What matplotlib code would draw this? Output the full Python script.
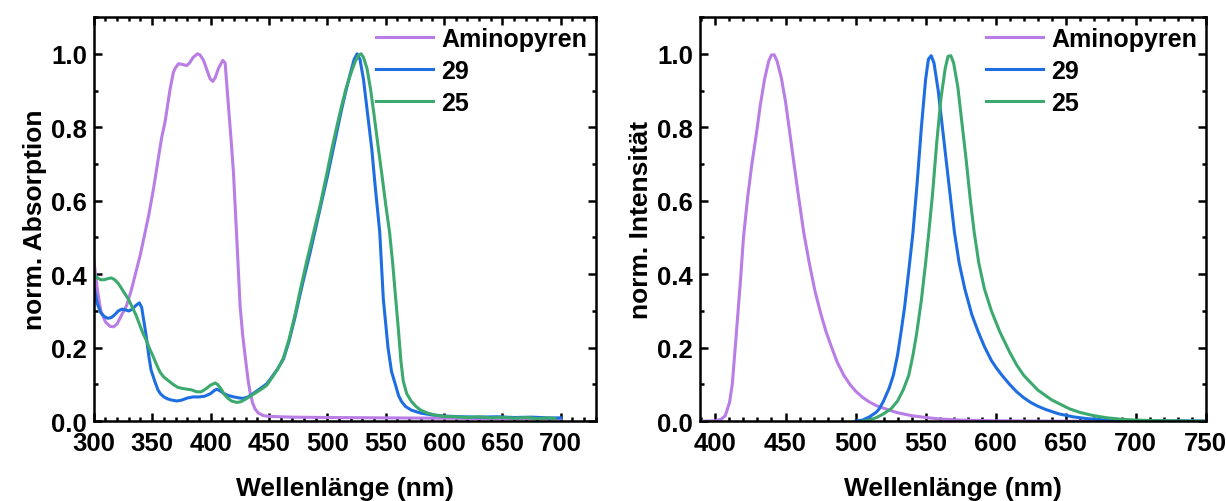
import matplotlib
matplotlib.use("Agg")
import matplotlib.pyplot as plt
from matplotlib.ticker import MultipleLocator

plt.rcParams['font.family'] = ['Liberation Sans', 'DejaVu Sans']
plt.rcParams['font.weight'] = 'bold'
plt.rcParams['axes.labelweight'] = 'bold'

# colours
c_amino = '#b97de6'
c_29 = '#1e6ee1'
c_25 = '#3caa6e'

# --- absorption spectra ---
abs_amino_wl = [300, 303, 306, 310, 314, 317, 320, 324, 328, 332, 336, 340, 343, 347, 351, 355.4, 358,
                361, 365.4, 368.2, 370, 372.5, 376, 379.6, 382, 385, 388.8, 391, 394, 397, 399.6, 401.9,
                404, 407, 410.5, 412.5, 415.3, 417.5, 419.6, 422.5, 425.3, 427.5, 429.6, 432, 433.9, 436,
                438.2, 441, 445.3, 450, 470, 500, 550, 600, 650, 700]
abs_amino = [0.44, 0.36, 0.30, 0.27, 0.258, 0.257, 0.265, 0.29, 0.314, 0.355, 0.405, 0.455, 0.50, 0.56,
             0.63, 0.718, 0.77, 0.814, 0.905, 0.95, 0.962, 0.973, 0.971, 0.968, 0.975, 0.99, 1.0, 0.997,
             0.982, 0.955, 0.932, 0.925, 0.935, 0.962, 0.982, 0.975, 0.859, 0.77, 0.678, 0.496, 0.314,
             0.235, 0.178, 0.115, 0.078, 0.05, 0.033, 0.022, 0.015, 0.013, 0.011, 0.010, 0.009, 0.008,
             0.007, 0.006]

abs_29_wl = [300, 303, 306, 309, 312, 315, 318, 321, 324, 327, 330, 333, 336, 339, 341, 343, 345, 347, 349,
             352.5, 355, 357, 360, 363, 366, 371, 375, 380, 385, 390, 395, 400, 403, 405.3, 408, 411, 415,
             420, 425, 428, 432, 436, 440, 444, 448.2, 452, 457, 462.4, 467, 472, 476.7, 480, 485, 490,
             495, 500, 504, 508, 512, 516, 520, 523, 525.5, 528, 531, 534, 538.1, 541, 544.9, 548, 552,
             555, 558.3, 561, 563.5, 567, 572, 580, 590, 600, 615, 630, 645, 660, 675, 690, 700]
abs_29 = [0.37, 0.32, 0.295, 0.285, 0.28, 0.282, 0.29, 0.30, 0.305, 0.303, 0.30, 0.305, 0.315, 0.322,
          0.31, 0.27, 0.23, 0.18, 0.14, 0.106, 0.085, 0.075, 0.066, 0.061, 0.058, 0.055, 0.057, 0.063,
          0.066, 0.066, 0.068, 0.075, 0.083, 0.087, 0.083, 0.076, 0.07, 0.066, 0.063, 0.062, 0.066,
          0.074, 0.083, 0.092, 0.102, 0.118, 0.14, 0.169, 0.215, 0.278, 0.345, 0.39, 0.455, 0.525,
          0.595, 0.665, 0.725, 0.785, 0.845, 0.9, 0.95, 0.985, 1.0, 0.985, 0.93, 0.85, 0.741, 0.64,
          0.515, 0.332, 0.2, 0.135, 0.1, 0.07, 0.054, 0.04, 0.03, 0.022, 0.017, 0.014, 0.012, 0.011,
          0.012, 0.010, 0.011, 0.009, 0.009]

abs_25_wl = [300, 303, 306, 309, 312, 315, 318, 321, 324, 327, 330, 333, 336, 339, 342, 345, 348, 351, 354,
             356.8, 360, 364, 368, 372, 376, 380, 384, 388, 392, 396, 400, 403.9, 406, 409, 412, 415, 418,
             422.5, 426, 430, 435, 440, 444, 448.2, 453, 458, 462.4, 467, 472, 476.7, 482, 488, 494, 500,
             503.9, 508, 512, 516, 520, 524, 527, 529, 531, 534, 537, 540, 543.8, 547, 550, 553.3, 556,
             558, 561, 563, 565, 568, 572, 576, 580, 586, 592, 600, 610, 620, 630, 640, 650, 660, 670, 680,
             690, 695]
abs_25 = [0.40, 0.39, 0.385, 0.385, 0.388, 0.39, 0.385, 0.375, 0.36, 0.345, 0.33, 0.31, 0.29, 0.265,
          0.24, 0.22, 0.196, 0.175, 0.152, 0.133, 0.12, 0.11, 0.10, 0.092, 0.089, 0.087, 0.085, 0.08,
          0.08, 0.088, 0.098, 0.104, 0.10, 0.088, 0.072, 0.062, 0.055, 0.051, 0.053, 0.06, 0.07, 0.08,
          0.088, 0.098, 0.12, 0.145, 0.172, 0.22, 0.285, 0.355, 0.43, 0.51, 0.59, 0.68, 0.741, 0.80,
          0.855, 0.905, 0.945, 0.98, 0.997, 1.0, 0.99, 0.96, 0.905, 0.835, 0.741, 0.665, 0.59, 0.515,
          0.43, 0.355, 0.245, 0.165, 0.11, 0.075, 0.054, 0.04, 0.03, 0.022, 0.017, 0.013, 0.012, 0.010,
          0.012, 0.009, 0.011, 0.008, 0.010, 0.007, 0.009, 0.007]

# --- emission spectra ---
em_amino_wl = [390, 400, 404, 407, 410, 412, 415, 418, 420, 423, 426, 429.5, 432, 435, 438, 440, 442, 444,
               447, 450, 452, 455, 459, 463, 467, 471, 475, 479, 483, 487, 491.6, 496, 500, 505, 510, 515,
               522.6, 530, 540, 550, 560, 575, 600, 650, 750]
em_amino = [0.0, 0.001, 0.005, 0.015, 0.05, 0.1, 0.243, 0.39, 0.5, 0.61, 0.70, 0.79, 0.86, 0.93, 0.98,
            0.997, 0.997, 0.98, 0.935, 0.87, 0.815, 0.73, 0.62, 0.514, 0.43, 0.355, 0.295, 0.243, 0.2,
            0.16, 0.125, 0.1, 0.082, 0.065, 0.052, 0.042, 0.032, 0.023, 0.015, 0.01, 0.006, 0.003, 0.001,
            0.0, 0.0]

em_29_wl = [500, 505, 510, 515, 517, 520, 524, 527, 530, 532.5, 535, 538, 541, 544, 547, 550, 552, 554,
            556, 559, 562, 565, 568, 570.6, 574, 578, 583, 587.6, 592, 597, 600.5, 604.5, 610, 615, 620,
            625, 630, 635.6, 645, 655, 665, 680, 700, 750]
em_29 = [0.0, 0.003, 0.012, 0.025, 0.034, 0.055, 0.09, 0.125, 0.18, 0.243, 0.31, 0.41, 0.514, 0.65, 0.8,
         0.93, 0.985, 0.995, 0.975, 0.9, 0.8, 0.7, 0.6, 0.514, 0.43, 0.36, 0.29, 0.243, 0.203, 0.165,
         0.145, 0.125, 0.1, 0.08, 0.064, 0.051, 0.041, 0.032, 0.02, 0.012, 0.007, 0.003, 0.001, 0.0]

em_25_wl = [505, 510, 515, 520, 525.4, 530, 534, 538, 541, 543.8, 547, 550, 552.3, 555, 558, 561, 564, 566,
            568, 570, 573, 576, 579, 582, 584.7, 588, 592, 597, 603, 610, 615, 620, 630, 640, 652.5, 660,
            670, 680, 690, 700, 720, 750]
em_25 = [0.0, 0.003, 0.01, 0.02, 0.034, 0.055, 0.085, 0.125, 0.18, 0.243, 0.33, 0.43, 0.514, 0.62, 0.76,
         0.88, 0.96, 0.993, 0.995, 0.975, 0.91, 0.81, 0.71, 0.6, 0.514, 0.43, 0.36, 0.3, 0.243, 0.188,
         0.153, 0.125, 0.085, 0.058, 0.034, 0.024, 0.015, 0.009, 0.005, 0.003, 0.001, 0.0]

labels = ['Aminopyren', '29', '25']

fig = plt.figure(figsize=(12.26, 5.02), dpi=100)
ax1 = fig.add_axes([0.0765, 0.159, 0.4095, 0.805])
ax2 = fig.add_axes([0.571, 0.159, 0.4125, 0.805])

ax1.plot(abs_amino_wl, abs_amino, color=c_amino, lw=2.2, label=labels[0])
ax1.plot(abs_29_wl, abs_29, color=c_29, lw=2.2, label=labels[1])
ax1.plot(abs_25_wl, abs_25, color=c_25, lw=2.2, label=labels[2])

ax2.plot(em_amino_wl, em_amino, color=c_amino, lw=2.2, label=labels[0])
ax2.plot(em_29_wl, em_29, color=c_29, lw=2.2, label=labels[1])
ax2.plot(em_25_wl, em_25, color=c_25, lw=2.2, label=labels[2])

ax1.set_xlim(300, 730)
ax2.set_xlim(389, 750)
ax1.set_ylabel('norm. Absorption', fontsize=19, labelpad=3)
ax2.set_ylabel('norm. Intensität', fontsize=19, labelpad=3)

for ax in (ax1, ax2):
    ax.set_ylim(0, 1.1)
    ax.xaxis.set_major_locator(MultipleLocator(50))
    ax.xaxis.set_minor_locator(MultipleLocator(10))
    ax.yaxis.set_major_locator(MultipleLocator(0.2))
    ax.yaxis.set_minor_locator(MultipleLocator(0.1))
    ax.tick_params(which='both', direction='in', top=True, right=True, width=1.8)
    ax.tick_params(which='major', length=6, labelsize=18.5)
    ax.tick_params(axis='x', which='major', pad=7)
    ax.tick_params(axis='y', which='major', pad=5)
    ax.tick_params(which='minor', length=3)
    for s in ax.spines.values():
        s.set_linewidth(1.8)
    ax.set_xlabel('Wellenlänge (nm)', fontsize=19, labelpad=15)
    ax.legend(loc='upper right', bbox_to_anchor=(0.997, 0.995), frameon=False, fontsize=18,
              handlelength=2.3, handletextpad=0.3, labelspacing=0.32, borderaxespad=0.1, borderpad=0.2)
    for lbl in ax.get_xticklabels() + ax.get_yticklabels():
        lbl.set_fontweight('bold')

fig.savefig('out.png', dpi=100)
